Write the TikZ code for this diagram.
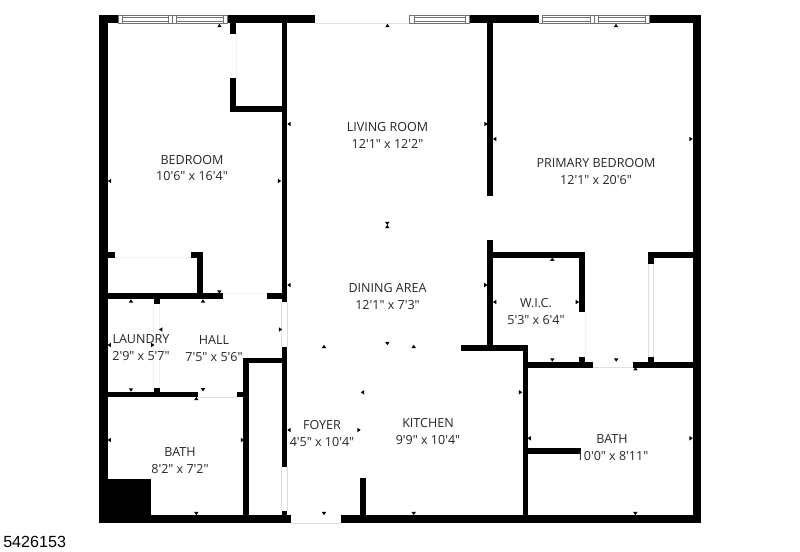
\documentclass[tikz,border=0pt]{standalone}
\usepackage{fontspec}
\setmainfont{Open Sans}
\newfontfamily\labfont{Open Sans}
\newfontfamily\idfont{Liberation Sans}
\tikzset{
  wallfill/.style={fill=black,draw=none},
  gapline/.style={draw=black!13,line width=0.6pt},
  faintline/.style={draw=black!5,line width=0.5pt},
  framebox/.style={draw=black!55,line width=0.55pt,fill=white},
  paneline/.style={draw=black!55,line width=0.55pt},
  label/.style={font=\labfont\fontsize{9.4pt}{11pt}\selectfont,text=black!85,inner sep=0pt,anchor=center},
  tri/.style={fill=black,draw=none}
}
\newcommand{\wl}[4]{\fill[wallfill] (#1,#2) rectangle (#3,#4);}
\newcommand{\tu}[2]{\fill[tri] (#1-2.2,#2+1.6) -- (#1+2.2,#2+1.6) -- (#1,#2-1.7) -- cycle;}
\newcommand{\td}[2]{\fill[tri] (#1-2.2,#2-1.6) -- (#1+2.2,#2-1.6) -- (#1,#2+1.7) -- cycle;}
\newcommand{\tl}[2]{\fill[tri] (#1+1.6,#2-2.2) -- (#1+1.6,#2+2.2) -- (#1-1.7,#2) -- cycle;}
\newcommand{\tr}[2]{\fill[tri] (#1-1.6,#2-2.2) -- (#1-1.6,#2+2.2) -- (#1+1.7,#2) -- cycle;}
\newcommand{\pane}[2]{%
  \draw[paneline] (#1,15) -- (#1,23.3) (#2,15) -- (#2,23.3)
    (#1,17.8) -- (#2,17.8) (#1,21) -- (#2,21);}
\begin{document}
\begin{tikzpicture}[x=0.75pt,y=-0.75pt]
\useasboundingbox (0,0) rectangle (800,552);
% outer walls
\wl{99.3}{15}{315}{23.3}
\wl{409}{15}{701.3}{23.3}
\wl{99.3}{15}{108.3}{523.3}
\wl{692.7}{15}{701.3}{523.3}
\wl{99.3}{515}{291}{523.3}
\wl{340.7}{515}{701.3}{523.3}
% windows
\draw[framebox] (118.3,15) rectangle (227.3,23.3);
\pane{122.5}{168.4}\pane{176.7}{223.3}
\draw[paneline] (172.4,15) -- (172.4,23.3);
\draw[framebox] (409.3,15) rectangle (469.3,23.3);
\pane{414.7}{465.7}
\draw[framebox] (539,15) rectangle (649.7,23.3);
\pane{542.7}{590.7}\pane{598.7}{645.7}
\draw[paneline] (594.7,15) -- (594.7,23.3);
\fill[white] (315,15) rectangle (409,23);
\fill[white] (539,15.5) rectangle (542.2,23);
\draw[gapline] (315,23.3) -- (409,23.3) (291,523.3) -- (340.7,523.3);
% bedroom closet
\wl{230.3}{23}{236.3}{34.3}
\wl{230.3}{78.3}{236.3}{111.7}
\wl{230.3}{105.7}{287}{111.7}
\draw[faintline] (236.3,34.3) -- (236.3,78.3);
% corridor wall
\wl{281.7}{23}{287.3}{302.3}
\wl{281.7}{346.7}{287.3}{467.3}
\wl{281.7}{511}{287.3}{516}
\draw[gapline] (281.7,302.3) -- (281.7,346.7) (287.3,302.3) -- (287.3,346.7)
  (281.7,467.3) -- (281.7,511) (287.3,467.3) -- (287.3,511);
% lower bedroom closet
\wl{108}{251.7}{115}{257.7}
\wl{190.7}{251.7}{202.7}{257.7}
\wl{197}{251.7}{202.7}{299}
\draw[faintline] (115,257.7) -- (190.7,257.7);
\wl{108}{293.3}{223.3}{299.3}
\wl{267.3}{293.3}{287}{299.3}
\draw[faintline] (223.3,293.3) -- (267.3,293.3);
% laundry / hall
\wl{153.7}{299}{159.7}{304.3}
\wl{153.7}{387.7}{159.7}{393}
\draw[faintline] (153.7,304.3) -- (153.7,387.7) (159.7,304.3) -- (159.7,387.7);
\wl{108}{391.7}{198.3}{397.3}
\wl{236.7}{391.7}{249}{397.3}
\draw[gapline] (198.3,397.3) -- (236.7,397.3);
\wl{243.3}{357.7}{249.3}{516}
\wl{243.3}{357.7}{287}{363.3}
% block
\wl{108}{479.3}{151.3}{516}
% foyer stub
\wl{360.3}{477.7}{366.3}{516}
% centre wall
\wl{487.3}{23}{493.3}{196}
\wl{487.3}{240}{493.3}{350}
\wl{493}{251.7}{585}{257.7}
\wl{579}{251.7}{585}{312.3}
\wl{579}{356.7}{585}{362}
\wl{522.7}{361.7}{592.7}{367.7}
\wl{632.7}{361.7}{693}{367.7}
\draw[gapline] (592.7,367.7) -- (632.7,367.7);
\draw[faintline] (585,312.3) -- (585,356.7);
\wl{648}{251.7}{693}{257.7}
\wl{648}{251.7}{653.7}{264}
\wl{648}{356.7}{653.7}{362}
\draw[gapline] (648,264) -- (648,356.7) (653.7,264) -- (653.7,356.7);
\wl{460.7}{345}{527.7}{350.7}
\wl{522.7}{345}{527.7}{516}
\wl{527}{448.3}{581}{454}
% labels
\node[label] (lr1) at (387.5,126.8) {LIVING ROOM};
\node[label] (lr2) at (387.5,143.8) {12'1" x 12'2"};
\node[label] (bd1) at (192,159.8) {BEDROOM};
\node[label] (bd2) at (192,175.8) {10'6" x 16'4"};
\node[label] (pb1) at (596,162.8) {PRIMARY BEDROOM};
\node[label] (pb2) at (596,179.8) {12'1" x 20'6"};
\node[label] (da1) at (387.5,287.8) {DINING AREA};
\node[label] (da2) at (387.5,304.8) {12'1" x 7'3"};
\node[label] (wi1) at (536,302.8) {W.I.C.};
\node[label] (wi2) at (536,319.8) {5'3" x 6'4"};
\node[label] (la1) at (141,339.3) {LAUNDRY};
\node[label] (la2) at (141,356.3) {2'9" x 5'7"};
\node[label] (ha1) at (214,340.3) {HALL};
\node[label] (ha2) at (214,357.3) {7'5" x 5'6"};
\node[label] (ba1) at (180,452.3) {BATH};
\node[label] (ba2) at (180,469.3) {8'2" x 7'2"};
\node[label] (fo1) at (322,425.3) {FOYER};
\node[label] (fo2) at (322,442.3) {4'5" x 10'4"};
\node[label] (ki1) at (428,422.8) {KITCHEN};
\node[label] (ki2) at (428,439.8) {9'9" x 10'4"};
\node[label] (bb1) at (612,438.8) {BATH};
\node[label] (bb2) at (612.5,455.8) {10'0" x 8'11"};
\node[anchor=west,inner sep=0pt,font=\idfont\fontsize{12.1pt}{14pt}\selectfont] (id) at (3,541.5) {5426153};
% marks
\tu{219.5}{25.5}\tu{387.5}{25.5}\tu{616}{25.5}\tu{131}{301}\tu{203}{301}\tu{196.3}{398.5}
\tu{324}{346.5}\tu{413.7}{346.5}\tu{552.3}{259.3}\tu{635.5}{368.8}\tu{387.3}{226.6}
\td{219.3}{292}\td{131}{390}\td{203}{389.7}\td{196.3}{513.5}\td{324}{513.5}\td{387.3}{343.5}
\td{387.3}{223.4}\td{552.3}{360}\td{616.2}{360}\td{635.3}{513.5}\td{413.7}{513.5}
\tl{109.5}{181}\tl{109.3}{345}\tl{109.3}{440}\tl{289}{124}\tl{289}{285}\tl{160.8}{329.5}
\tl{289}{430}\tl{362.5}{392.3}\tl{494.8}{302}\tl{529.2}{438.3}\tl{494.8}{139}
\tr{486}{124}\tr{280.5}{329.5}\tr{152.7}{345}\tr{242.5}{440}\tr{359}{430}\tr{485.8}{285}
\tr{577.3}{302}\tr{691}{438.3}\tr{691}{139}\tr{520.5}{392.3}\tr{279.5}{181}
\end{tikzpicture}
\end{document}
